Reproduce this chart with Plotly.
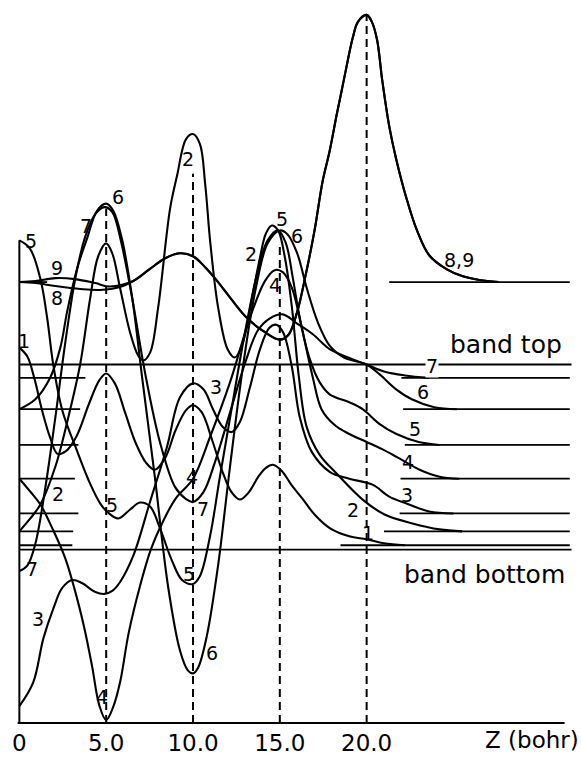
import plotly.graph_objects as go

# ---------------------------------------------------------------------------
# Slab wavefunctions, psi(z) drawn on top of each state's energy level.
# Energies and amplitudes are in arbitrary (common) units; z in bohr.
# ---------------------------------------------------------------------------

Z_TICKS = [0, 5, 10, 15, 20]
Z_TICK_TEXT = ["0", "5.0", "10.0", "15.0", "20.0"]

BAND_TOP = 36.1
BAND_BOTTOM = 17.45

# energy level of each state
E1, E2, E3, E4, E5, E6, E7, E89 = 17.9, 19.3, 21.1, 24.6, 28.0, 31.6, 34.75, 44.4

z1 = [0, 0.46, 0.85, 1.32, 1.78, 2.2, 2.7, 3.3, 4.0, 4.6, 5.0, 5.5, 6.1, 6.7, 7.3,
      7.8, 8.4, 9.0, 9.6, 10.0, 10.5, 11.1, 11.7, 12.2, 12.7, 13.2, 13.8, 14.2, 14.6,
      15.1, 15.7, 16.3, 17.0, 17.9, 19.0, 20.0, 21.0, 22.2]
psi1 = [19.9, 19.0, 16.9, 13.5, 10.8, 9.2, 9.5, 11.0, 14.2, 16.6, 17.3, 16.3, 13.3,
        10.3, 8.3, 7.6, 8.8, 11.6, 13.6, 14.1, 13.4, 10.6, 7.4, 5.4, 4.6, 5.3, 7.0,
        7.8, 8.1, 7.5, 6.0, 4.7, 3.1, 1.7, 0.9, 0.6, 0.2, 0.0]

z2 = [0, 0.63, 1.21, 2.07, 2.82, 3.5, 4.08, 4.54, 5.0, 5.35, 5.8, 6.38, 6.84, 7.13,
      7.53, 7.99, 8.68, 9.08, 9.6, 10.0, 10.4, 10.7, 11.0, 11.45, 12.0, 12.41, 12.87,
      13.4, 13.85, 14.2, 14.54, 14.9, 15.3, 15.7, 16.1, 16.55, 17.3, 18.28, 19.77,
      21.03, 22.64, 24.2, 25.5]
psi2 = [0, 1.3, 2.7, 6.5, 11.5, 16.8, 23.5, 27.7, 29.0, 28.0, 24.5, 20.0, 17.7, 17.2,
        18.0, 22.5, 32.5, 35.8, 39.5, 40.0, 39.0, 35.0, 29.0, 22.5, 18.3, 17.5, 19.0,
        23.5, 27.5, 30.0, 30.8, 30.3, 27.5, 22.5, 15.5, 10.5, 7.7, 5.8, 3.2, 1.7, 0.8,
        0.2, 0.0]

z3 = [0, 0.8, 1.38, 1.95, 2.47, 3.05, 3.6, 4.37, 4.9, 5.35, 5.8, 6.55, 7.53, 8.5,
      9.25, 10.0, 10.6, 11.15, 11.72, 12.24, 12.7, 13.28, 13.85, 14.4, 14.8, 15.2,
      15.7, 16.15, 16.84, 17.87, 19.0, 20.34, 21.3, 22.3, 23.6, 25.0]
psi3 = [-19.4, -17.0, -12.6, -9.6, -7.5, -6.7, -7.0, -7.9, -8.1, -7.8, -6.9, -4.3, 1.2,
        6.7, 11.7, 13.1, 12.5, 10.5, 8.7, 8.2, 9.2, 12.7, 16.5, 18.7, 19.0, 18.2, 14.7,
        9.7, 6.2, 4.2, 3.5, 2.9, 1.7, 1.0, 0.2, 0.0]

z4 = [0, 0.63, 1.21, 1.9, 2.64, 3.33, 3.8, 4.2, 4.6, 5.0, 5.4, 5.8, 6.3, 6.95, 7.6,
      8.3, 9.0, 10.0, 10.98, 12.13, 13.28, 14.14, 14.7, 15.17, 15.7, 16.26, 16.9,
      17.4, 18.16, 19.0, 20.0, 20.86, 21.72, 23.05, 24.2, 25.34]
psi4 = [0, -1.3, -2.6, -5.0, -8.0, -12.1, -15.5, -19.0, -22.8, -24.3, -23.0, -20.5,
        -15.5, -10.8, -7.0, -4.2, -2.0, 0.0, 4.2, 9.7, 16.2, 19.9, 21.0, 20.8, 19.2,
        15.2, 10.2, 7.0, 5.4, 4.5, 3.7, 3.0, 2.2, 0.9, 0.2, 0.0]

z5 = [0, 0.6, 1.2, 1.6, 1.95, 2.47, 3.3, 4.1, 4.66, 5.1, 5.7, 6.38, 6.95, 7.53, 8.1,
      8.8, 9.37, 10.0, 10.4, 10.98, 11.55, 12.24, 12.99, 13.74, 14.3, 14.9, 15.35,
      15.75, 16.15, 16.7, 17.3, 17.87, 19.0, 19.77, 20.75, 21.72, 23.0, 24.2]
psi5 = [20.6, 19.8, 16.8, 12.8, 8.1, 3.5, -0.5, -4.0, -5.9, -6.8, -7.4, -6.5, -5.8,
        -6.2, -8.4, -11.7, -13.6, -14.0, -13.2, -9.2, -3.2, 3.8, 11.3, 17.6, 20.6,
        21.6, 20.3, 16.8, 12.8, 8.8, 6.3, 5.1, 4.3, 3.6, 2.1, 1.1, 0.3, 0.0]

z6 = [0, 0.92, 1.78, 2.36, 2.76, 3.33, 3.9, 4.48, 5.0, 5.4, 5.9, 6.5, 7.07, 7.8, 8.56,
      9.25, 9.7, 10.0, 10.3, 10.8, 11.44, 12.13, 12.87, 13.62, 14.3, 15.0, 15.45, 16.0,
      16.55, 17.2, 17.87, 18.7, 20.0, 20.75, 21.7, 22.6, 23.9, 25.2]
psi6 = [0, 1.0, 3.2, 6.2, 9.9, 14.2, 17.2, 20.0, 20.7, 20.0, 17.2, 11.2, 3.2, -6.8,
        -17.8, -24.3, -26.3, -26.6, -26.0, -22.8, -15.8, -5.8, 4.2, 12.2, 16.7, 18.0,
        17.6, 15.7, 12.2, 8.7, 6.4, 5.2, 4.5, 3.5, 2.0, 1.0, 0.2, 0.0]

z7 = [0, 0.46, 0.92, 1.5, 2.07, 2.64, 3.22, 3.79, 4.37, 4.9, 5.35, 5.86, 6.5, 7.24,
      8.1, 8.97, 9.6, 10.0, 10.6, 11.26, 12.13, 13.0, 13.74, 14.43, 15.17, 15.97,
      16.9, 17.87, 19.0, 20.0, 21.0, 22.2, 23.6]
psi7 = [-19.45, -18.9, -16.7, -11.0, -4.0, 3.5, 10.0, 14.2, 16.5, 17.2, 16.7, 13.7,
        8.0, 0.5, -6.5, -11.0, -12.2, -12.5, -11.5, -8.5, -3.5, 1.5, 4.8, 6.0, 6.4,
        5.5, 4.4, 2.9, 2.0, 1.35, 0.65, 0.25, 0.0]

# states 8 and 9 differ only near the slab centre
z8_head = [0, 0.92, 2.07, 3.5, 4.65, 5.8]
psi8_head = [0, -0.1, -0.4, -0.7, -0.8, -0.5]
z9_head = [0, 0.92, 2.07, 3.2, 4.37, 5.2]
psi9_head = [0, 0.1, 0.4, 0.3, -0.1, -0.45]
z89_tail = [6.55, 7.5, 8.4, 9.25, 10.0, 10.7, 11.4, 12.24, 13.1, 14.1, 15.0, 15.5,
            16.0, 16.5, 17.0, 17.47, 17.87, 18.28, 18.6, 18.9, 19.2, 19.5, 20.0, 20.3,
            20.6, 20.9, 21.3, 21.7, 22.3, 22.9, 23.6, 24.6, 25.5, 26.5, 27.6]
psi89_tail = [0.1, 1.3, 2.4, 2.9, 2.6, 1.5, 0.1, -1.8, -3.6, -5.0, -5.8, -5.3, -3.0,
              0.8, 5.2, 10.2, 13.2, 16.9, 19.6, 22.2, 24.6, 26.2, 26.9, 26.2, 24.4,
              20.3, 15.7, 12.4, 8.4, 5.2, 2.7, 1.3, 0.6, 0.2, 0.0]

states = [
    (E1, z1, psi1),
    (E2, z2, psi2),
    (E3, z3, psi3),
    (E4, z4, psi4),
    (E5, z5, psi5),
    (E6, z6, psi6),
    (E7, z7, psi7),
    (E89, z8_head + z89_tail, psi8_head + psi89_tail),
    (E89, z9_head + z89_tail, psi9_head + psi89_tail),
]

# ---------------------------------------------------------------------------
# drawing
# ---------------------------------------------------------------------------
INK = "black"
FONT = "DejaVu Sans"

fig = go.Figure()

for level, z, psi in states:
    fig.add_trace(go.Scatter(
        x=z, y=[level + p for p in psi], mode="lines",
        line=dict(color=INK, width=2.1, shape="spline", smoothing=1.0),
        hoverinfo="skip", showlegend=False))

shapes = []


def hline(y, x0, x1, width=1.8):
    shapes.append(dict(type="line", xref="x", yref="y", x0=x0, x1=x1, y0=y, y1=y,
                       line=dict(color=INK, width=width)))


def vline(x, y0, y1, dash=None, width=2):
    shapes.append(dict(type="line", xref="x", yref="y", x0=x, x1=x, y0=y0, y1=y1,
                       line=dict(color=INK, width=width, dash=dash)))


# short reference lines at each level, near the centre and far in the vacuum
left_ends = [3.05, 3.1, 3.4, 3.2, 3.4, 3.5, 3.8, 1.6]
right_starts = [18.5, 21.0, 21.9, 21.95, 22.2, 22.1, 22.0, 21.3]
level_list = [E1, E2, E3, E4, E5, E6, E7, E89]
for lev, xl, xr in zip(level_list, left_ends, right_starts):
    hline(lev, 0, xl)
    hline(lev, xr, 31.7)

hline(BAND_TOP, 0, 31.8)
hline(BAND_BOTTOM, 0, 31.8)
hline(0, -0.1, 31.4, width=2)           # z axis
vline(0, 0, E5 + psi5[0], width=2)      # slab centre

# atomic planes
for zp, top in zip([5, 10, 15, 20], [51.8, 55.3, 48.2, 71.3]):
    vline(zp, 0, top, dash="8px,5px")

annotations = []


def label(text, x, y, size=19, bg=None):
    annotations.append(dict(text=text, x=x, y=y, xref="x", yref="y", showarrow=False,
                            xanchor="center", yanchor="middle",
                            font=dict(family=FONT, size=size, color=INK),
                            bgcolor=bg, borderpad=0))


curve_labels = [
    ("5", 0.67, 48.5), ("9", 2.17, 45.8), ("8", 2.17, 42.8), ("7", 3.84, 50.0),
    ("6", 5.67, 53.0), ("1", 0.27, 38.5), ("2", 9.71, 56.8), ("2", 13.34, 47.2),
    ("5", 15.13, 50.8), ("6", 16.0, 49.0), ("4", 14.7, 44.1), ("3", 11.33, 33.8),
    ("4", 9.95, 24.8), ("7", 10.58, 21.6), ("5", 5.34, 22.0), ("2", 2.23, 23.1),
    ("7", 0.73, 15.5), ("3", 1.07, 10.5), ("4", 4.76, 2.6), ("5", 9.77, 15.0),
    ("6", 11.1, 7.1), ("8,9", 25.3, 46.6), ("6", 23.25, 33.3), ("5", 22.8, 29.6),
    ("4", 22.4, 26.3), ("3", 22.33, 23.0), ("2", 19.22, 21.5), ("1", 20.08, 19.1),
]
for t, x, y in curve_labels:
    label(t, x, y)
label("7", 23.77, 35.9, bg="white")
label("band top", 28.0, 38.1, size=25)
label("band bottom", 26.8, 15.0, size=25)

annotations.append(dict(text="Z (bohr)", x=29.5, y=-0.018, xref="x", yref="paper",
                        showarrow=False, xanchor="center", yanchor="middle",
                        font=dict(family=FONT, size=23, color=INK)))

fig.update_layout(
    width=581, height=758,
    margin=dict(l=2, r=6, t=2, b=26, pad=0),
    paper_bgcolor="white", plot_bgcolor="white",
    shapes=shapes, annotations=annotations,
    xaxis=dict(range=[-1, 32], showgrid=False, zeroline=False, showline=False,
               ticks="", tickvals=Z_TICKS, ticktext=Z_TICK_TEXT,
               tickfont=dict(family=FONT, size=23, color=INK), fixedrange=True),
    yaxis=dict(range=[-0.4, 72.6], visible=False, fixedrange=True),
)

fig.write_html("out.html")
